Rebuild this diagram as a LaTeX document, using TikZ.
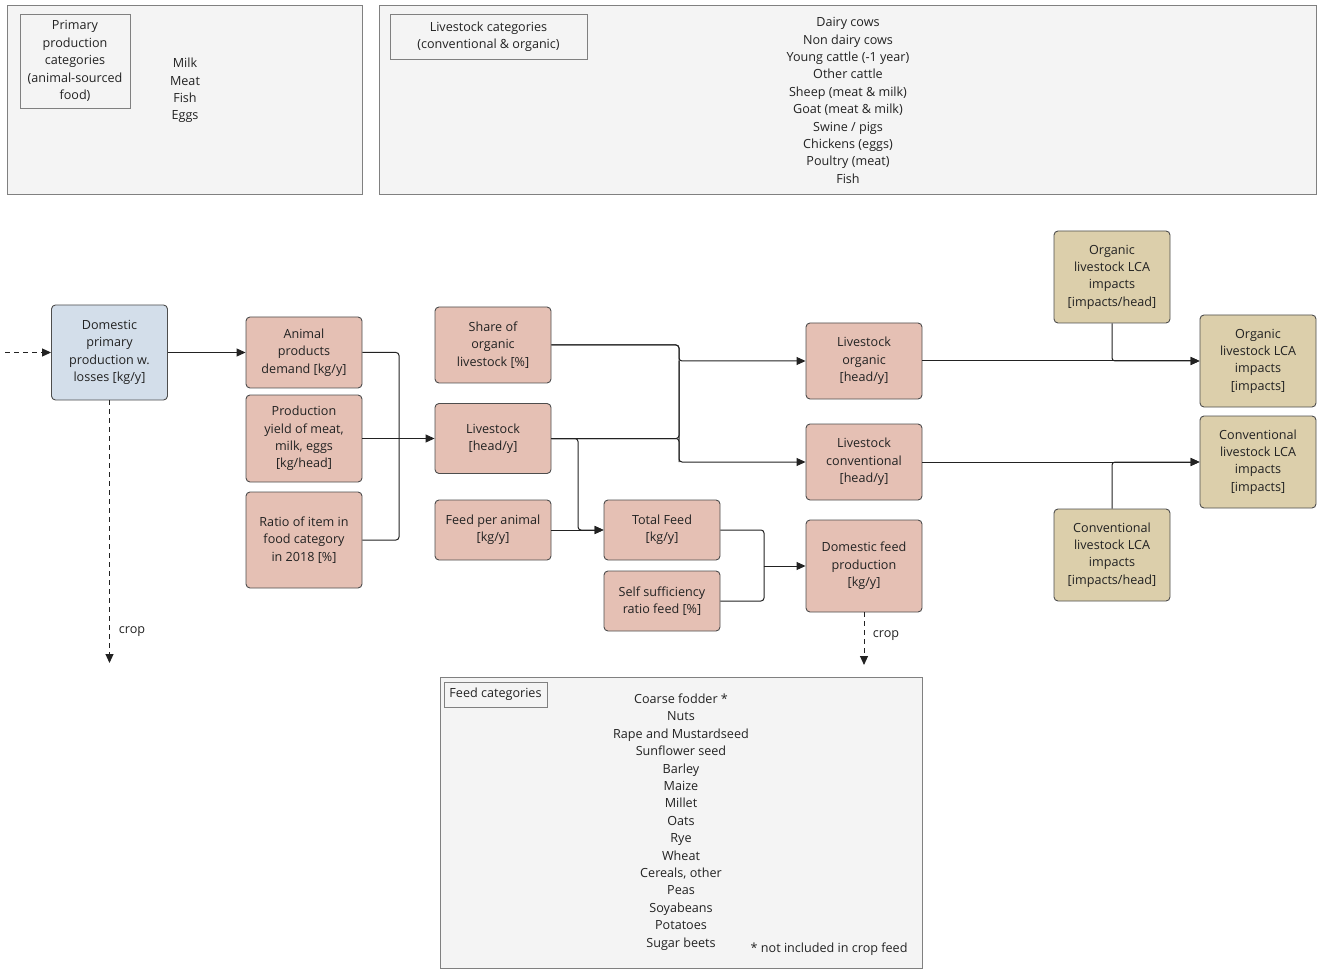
\documentclass[tikz,border=0pt]{standalone}
\usepackage{fontspec}
\setmainfont{Open Sans}
\usetikzlibrary{arrows.meta}

\definecolor{boxpink}{HTML}{E5C0B4}
\definecolor{boxblue}{HTML}{D3DEEA}
\definecolor{boxtan}{HTML}{DCCFAB}
\definecolor{panelgray}{HTML}{F4F4F4}
\definecolor{framegray}{HTML}{808080}
\definecolor{edgegray}{HTML}{4D4D4D}
\definecolor{inkgray}{HTML}{222222}

\begin{document}
\begin{tikzpicture}[x=1pt, y=-1pt, text=inkgray,
    font=\fontsize{12.6pt}{17.4pt}\selectfont,
    box/.style={draw=edgegray, line width=0.9pt, rounded corners=4pt, align=center,
      inner sep=0pt, minimum width=116pt},
    calc/.style={box, fill=boxpink},
    src/.style={box, fill=boxblue},
    lca/.style={box, fill=boxtan},
    panel/.style={draw=framegray, line width=0.9pt, fill=panelgray},
    tag/.style={draw=framegray, line width=0.9pt, align=center, inner sep=0pt},
    link/.style={draw=inkgray, line width=1pt, rounded corners=3pt},
    flow/.style={link, -{Triangle[length=9pt,width=8pt]}},
    dashflow/.style={flow, rounded corners=0pt, dash pattern=on 5pt off 4pt}]
  \useasboundingbox (0,0) rectangle (1325,973);

  % category panels
  \node[panel, minimum width=355pt, minimum height=189pt] (primpanel) at (184.5,99.5) {};
  \node[tag, minimum width=110pt, minimum height=94pt] (primtag) at (75,61)
    {Primary\\production\\categories\\(animal-sourced\\food)};
  \node[align=center] (primlist) at (185,90.5) {Milk\\Meat\\Fish\\Eggs};

  \node[panel, minimum width=937pt, minimum height=189pt] (lvpanel) at (847.5,99.5) {};
  \node[tag, minimum width=197pt, minimum height=45pt] (lvtag) at (488.5,36.5)
    {Livestock categories\\(conventional \& organic)};
  \node[align=center] (lvlist) at (848,100.5)
    {Dairy cows\\Non dairy cows\\Young cattle (-1 year)\\Other cattle\\Sheep (meat \& milk)\\
     Goat (meat \& milk)\\Swine / pigs\\Chickens (eggs)\\Poultry (meat)\\Fish};

  \node[panel, minimum width=482pt, minimum height=291pt] (feedpanel) at (681,822.5) {};
  \node[tag, minimum width=103pt, minimum height=25pt] (feedtag) at (495.5,694.5) {Feed categories};
  \node[align=center] (feedlist) at (681,822)
    {Coarse fodder *\\Nuts\\Rape and Mustardseed\\Sunflower seed\\Barley\\Maize\\Millet\\Oats\\
     Rye\\Wheat\\Cereals, other\\Peas\\Soyabeans\\Potatoes\\Sugar beets};
  \node[anchor=east] (feednote) at (911,949) {* not included in crop feed};

  % model nodes
  \node[src, minimum height=95pt] (dpp) at (109.5,352.5)
    {Domestic\\primary\\production w.\\losses [kg/y]};
  \node[calc, minimum height=71pt] (demand) at (304,352.5) {Animal\\products\\demand [kg/y]};
  \node[calc, minimum height=87pt] (yield) at (304,438.5)
    {Production\\yield of meat,\\milk, eggs\\{}[kg/head]};
  \node[calc, minimum height=96pt] (ratio) at (304,540)
    {Ratio of item in\\food category\\in 2018 [\%]};

  \node[calc, minimum height=76pt] (share) at (493,345) {Share of\\organic\\livestock [\%]};
  \node[calc, minimum height=70pt] (lvst) at (493,438.5) {Livestock\\{}[head/y]};
  \node[calc, minimum height=60pt] (fpa) at (493,530) {Feed per animal\\{}[kg/y]};
  \node[calc, minimum height=60pt] (tfeed) at (662,530) {Total Feed\\{}[kg/y]};
  \node[calc, minimum height=60pt] (ssr) at (662,601) {Self sufficiency\\ratio feed [\%]};

  \node[calc, minimum height=76pt] (lorg) at (864,361) {Livestock\\organic\\{}[head/y]};
  \node[calc, minimum height=76pt] (lconv) at (864,462) {Livestock\\conventional\\{}[head/y]};
  \node[calc, minimum height=92pt] (dfeed) at (864,566) {Domestic feed\\production\\{}[kg/y]};

  \node[lca, minimum height=92pt] (ohead) at (1112,277)
    {Organic\\livestock LCA\\impacts\\{}[impacts/head]};
  \node[lca, minimum height=92pt] (oimp) at (1258,361)
    {Organic\\livestock LCA\\impacts\\{}[impacts]};
  \node[lca, minimum height=92pt] (cimp) at (1258,462)
    {Conventional\\livestock LCA\\impacts\\{}[impacts]};
  \node[lca, minimum height=92pt] (chead) at (1112,555)
    {Conventional\\livestock LCA\\impacts\\{}[impacts/head]};

  % junction points
  \coordinate (in) at (5,352.5);
  \coordinate (crop1) at (109.5,663);
  \coordinate (crop2) at (864,665);
  \coordinate (m1) at (399,438.5);
  \coordinate (s1) at (679,361);
  \coordinate (s2) at (679,462);
  \coordinate (f1) at (578,530);
  \coordinate (d1) at (764,566);

  % connectors
  \draw[dashflow] (in) -- (dpp.west);
  \draw[dashflow] (dpp.south) -- (crop1);
  \node (croplbl1) at (132,632) {crop};
  \draw[flow] (dpp) -- (demand);

  \draw[link] (demand.east) -| (m1);
  \draw[link] (ratio.east) -| (m1);
  \draw[flow] (yield) -- (lvst);

  \draw[flow] (share.east) -| (s1) -- (lorg.west);
  \draw[flow] (share.east) -| (s2) -- (lconv.west);
  \draw[link] (lvst.east) -| (s1);
  \draw[link] (lvst.east) -| (s2);

  \draw[flow] (lvst.east) -| (f1) -- (tfeed.west);
  \draw[flow] (fpa) -- (tfeed);

  \draw[link] (tfeed.east) -| (d1);
  \draw[link] (ssr.east) -| (d1);
  \draw[flow] (d1) -- (dfeed.west);
  \draw[dashflow] (dfeed.south) -- (crop2);
  \node (croplbl2) at (886,636) {crop};

  \draw[flow] (lorg) -- (oimp);
  \draw[flow] (ohead.south) |- (oimp.west);
  \draw[flow] (lconv) -- (cimp);
  \draw[flow] (chead.north) |- (cimp.west);
\end{tikzpicture}
\end{document}
